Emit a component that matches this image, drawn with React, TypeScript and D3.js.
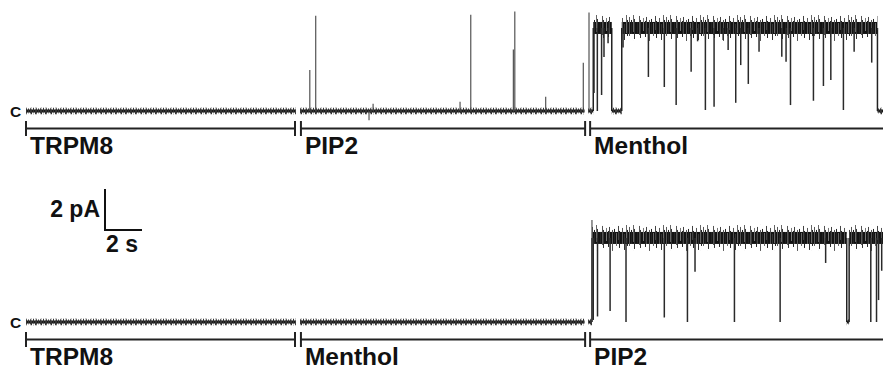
import React from 'react';
import * as d3 from 'd3';

const W = 883;
const H = 370;

// condition periods (s) under each record
const topConditions = ['TRPM8', 'PIP2', 'Menthol'];
const bottomConditions = ['TRPM8', 'Menthol', 'PIP2'];
const periodStarts = [0, 14.86, 30.49];
const periodEnds = [14.54, 30.22, 46.32];

// recorded pieces of each trace (s)
const traceSpans: [number, number][] = [[0, 14.59], [14.81, 30.19], [30.38, 46.32]];

// top record: TRPM8 -> PIP2 -> Menthol
const topOpenLevel = 4.05; // pA
const topOpenDwells: [number, number][] = [[30.66, 31.66], [32.2, 46.02]];
// brief openings from closed level [s, pA]
const topSpikes: [number, number][] = [
  [15.34, 2.0], [15.66, 4.65], [18.54, -0.45], [18.76, 0.35], [23.46, 0.45], [24.04, 4.7],
  [26.34, 3.0], [26.42, 4.85], [28.09, 0.7], [30.12, 2.35], [30.43, 4.8],
];
// closures from open level [s, lowest pA]
const topClosures: [number, number][] = [
  [30.7, 0.88], [30.88, 0], [31.11, 0.78], [31.24, 2.63], [31.46, 3.3], [32.27, 3.1],
  [33.64, 1.66], [34.5, 1.17], [35.14, 0.29], [35.95, 1.92], [36.3, 3.4], [36.72, 0.05],
  [37.19, 0.21], [37.68, 3.46], [37.95, 2.98], [38.36, 0.4], [38.63, 2.24], [39.04, 1.32],
  [39.62, 2.89], [40.85, 2.65], [41.08, 2.4], [41.32, 0.29], [42.56, 0.5], [43.1, 1.22],
  [43.5, 1.51], [44.18, 0.05], [44.76, 2.89], [45.71, 2.36],
];

// bottom record: TRPM8 -> Menthol -> PIP2
const bottomOpenLevel = 4.1; // pA
const bottomOpenDwells: [number, number][] = [[30.59, 44.36], [44.49, 46.32]];
const bottomSpikes: [number, number][] = [[30.59, 4.98]];
const bottomClosures: [number, number][] = [
  [30.66, 0.1], [30.89, 0.27], [31.57, 0.54], [32.43, 0], [34.5, 0.22], [35.75, 0],
  [36.16, 2.45], [38.29, 0], [40.76, 0], [43.22, 2.88], [45.66, 0], [45.97, 0],
  [46.08, 1.07], [46.25, 2.5],
];

const font = "'Liberation Sans', Arial, Helvetica, sans-serif";

const x = d3.scaleLinear().domain([0, 46.32]).range([26, 883]);
const pxPerPA = 20.5;

function closedIntervals(spans: [number, number][], dwells: [number, number][]) {
  const out: [number, number][] = [];
  spans.forEach(([a, b]) => {
    let cur = a;
    dwells
      .filter(([s, e]) => e > a && s < b)
      .forEach(([s, e]) => {
        if (s > cur) out.push([cur, Math.min(s, b)]);
        cur = Math.max(cur, e);
      });
    if (cur < b) out.push([cur, b]);
  });
  return out;
}

interface TraceProps {
  baseline: number;
  bracketY: number;
  conditions: string[];
  openLevel: number;
  openDwells: [number, number][];
  spikes: [number, number][];
  closures: [number, number][];
}

const Trace: React.FC<TraceProps> = ({ baseline, bracketY, conditions, openLevel, openDwells, spikes, closures }) => {
  const y = d3.scaleLinear().domain([0, 2]).range([baseline, baseline - 2 * pxPerPA]);
  const closed = closedIntervals(traceSpans, openDwells);
  const yo = y(openLevel);
  return (
    <g>
      <text x={10} y={baseline + 5.5} fontFamily={font} fontWeight="bold" fontSize={15.5} fill="#111">C</text>
      {/* closed noise */}
      <g transform={`translate(0,${baseline})`}>
        {closed.map(([a, b], i) => (
          <rect key={i} x={x(a)} y={-3.5} width={x(b) - x(a)} height={7} fill="url(#closedNoise)" />
        ))}
      </g>
      {/* opening / closing transitions */}
      {openDwells.map(([s, e], i) => (
        <g key={i} stroke="#222" strokeWidth={1.5}>
          <line x1={x(s)} x2={x(s)} y1={baseline} y2={yo} />
          {e < 46.3 && <line x1={x(e)} x2={x(e)} y1={baseline} y2={yo} />}
        </g>
      ))}
      {/* open noise */}
      <g transform={`translate(0,${yo})`}>
        {openDwells.map(([s, e], i) => (
          <rect key={i} x={x(s)} y={-13} width={x(e) - x(s)} height={26} fill="url(#openNoise)" />
        ))}
      </g>
      {spikes.map(([t, a], i) => (
        <line key={i} x1={x(t)} x2={x(t)} y1={baseline} y2={y(a)} stroke="#444" strokeWidth={1.1} />
      ))}
      {closures.map(([t, d], i) => (
        <line key={i} x1={x(t)} x2={x(t)} y1={yo} y2={y(d)} stroke="#2a2a2a" strokeWidth={1.5} />
      ))}
      {/* condition brackets */}
      {conditions.map((c, i) => {
        const a = x(periodStarts[i]);
        const b = x(periodEnds[i]);
        return (
          <g key={c + i}>
            <line x1={a} x2={b} y1={bracketY} y2={bracketY} stroke="#222" strokeWidth={2} />
            <line x1={a} x2={a} y1={bracketY - 7.5} y2={bracketY + 7.5} stroke="#222" strokeWidth={2} />
            {i < conditions.length - 1 && (
              <line x1={b} x2={b} y1={bracketY - 7.5} y2={bracketY + 7.5} stroke="#222" strokeWidth={2} />
            )}
            <text x={a + 4} y={bracketY + 25.5} fontFamily={font} fontWeight="bold" fontSize={24.5} fill="#111">{c}</text>
          </g>
        );
      })}
    </g>
  );
};

// texture of the open-channel noise band (tile 37 x 26)
const openLines: [number, number, number, string][] = [
  [0.5, 2, 21, '#555'], [2.5, 5, 19, '#222'], [4.5, 0, 17, '#666'], [5.5, 4, 24, '#333'],
  [8.5, 7, 18, '#222'], [10.5, 1, 20, '#555'], [11.5, 5, 23, '#333'], [14.5, 3, 16, '#777'],
  [16.5, 6, 22, '#222'], [17.5, 2, 19, '#444'], [20.5, 5, 26, '#555'], [22.5, 4, 18, '#222'],
  [24.5, 8, 21, '#666'], [26.5, 1, 15, '#444'], [27.5, 6, 23, '#222'], [30.5, 3, 19, '#555'],
  [32.5, 9, 25, '#333'], [34.5, 0, 18, '#666'], [35.5, 5, 21, '#222'],
];
const closedLines: [number, number, number][] = [
  [0.5, 0.5, 6], [1.5, 1.5, 7], [3.5, 0, 5.5], [5.5, 1.5, 7], [6.5, 0.5, 6.5], [8.5, 1, 5.5],
];

export default function App() {
  const barBase = 230;
  const barX = 105;
  return (
    <svg width={W} height={H} style={{ position: 'absolute', left: 0, top: 0, display: 'block', background: '#fff' }}>
      <defs>
        <pattern id="openNoise" patternUnits="userSpaceOnUse" x={0} y={-13} width={37} height={26}>
          <rect x={0} y={7} width={37} height={12} fill="#121212" />
          {openLines.map(([lx, a, b, c], i) => (
            <line key={i} x1={lx} x2={lx} y1={a} y2={b} stroke={c} strokeWidth={1} />
          ))}
        </pattern>
        <pattern id="closedNoise" patternUnits="userSpaceOnUse" x={0} y={-3.5} width={10} height={7}>
          <rect x={0} y={2} width={10} height={3} fill="#1a1a1a" />
          {closedLines.map(([lx, a, b], i) => (
            <line key={i} x1={lx} x2={lx} y1={a} y2={b} stroke="#333" strokeWidth={1} />
          ))}
        </pattern>
      </defs>
      <rect width={W} height={H} fill="#fff" />
      <Trace baseline={111} bracketY={128.5} conditions={topConditions} openLevel={topOpenLevel}
        openDwells={topOpenDwells} spikes={topSpikes} closures={topClosures} />
      <Trace baseline={322} bracketY={339.5} conditions={bottomConditions} openLevel={bottomOpenLevel}
        openDwells={bottomOpenDwells} spikes={bottomSpikes} closures={bottomClosures} />
      {/* scale bar: 2 pA, 2 s */}
      <g stroke="#111" strokeWidth={2} fill="none">
        <line x1={barX} x2={barX} y1={barBase} y2={barBase - 2 * pxPerPA} />
        <line x1={barX - 1} x2={barX + x(2) - x(0)} y1={barBase} y2={barBase} />
      </g>
      <text x={100} y={217} textAnchor="end" fontFamily={font} fontWeight="bold" fontSize={23} fill="#111">2 pA</text>
      <text x={106} y={252} fontFamily={font} fontWeight="bold" fontSize={23} fill="#111">2 s</text>
    </svg>
  );
}
